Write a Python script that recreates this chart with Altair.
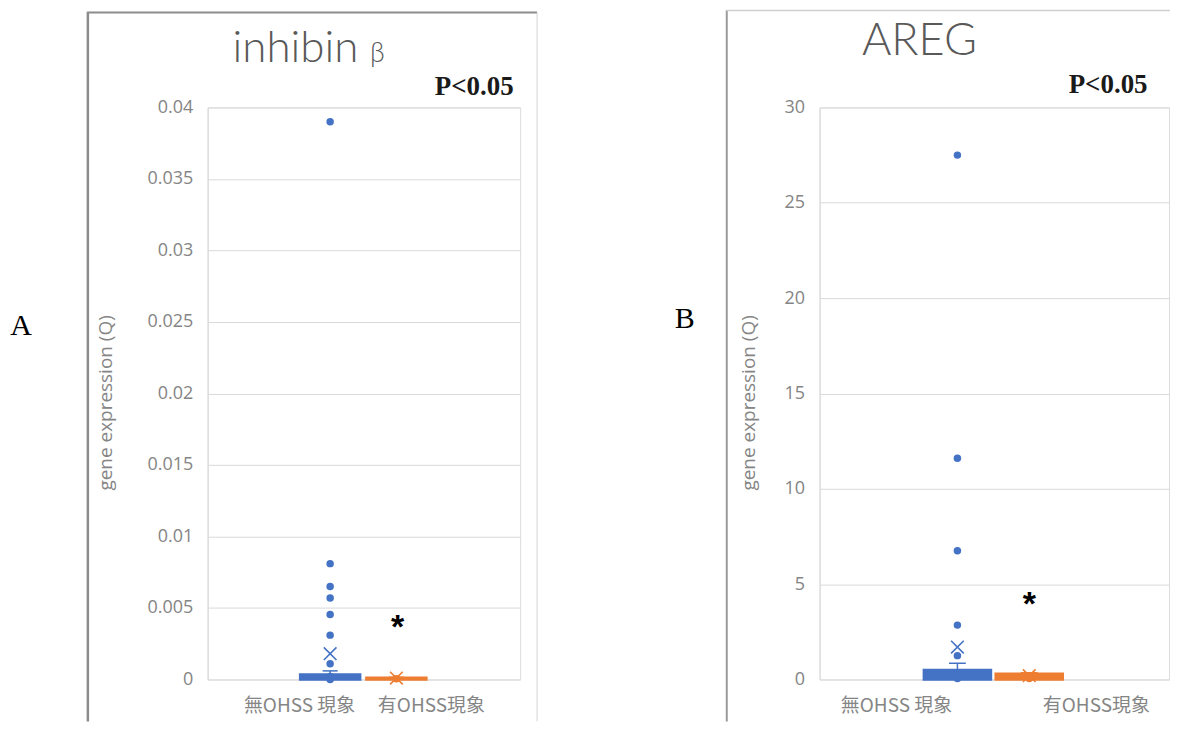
import altair as alt
import pandas as pd

# ---------------- data ----------------
groups = ["無OHSS 現象", "有OHSS現象"]
colors = ["#4472C4", "#ED7D31"]

# Panel A: inhibin β
a_q1 = [0.0, 0.0]
a_q3 = [0.00035, 0.00012]
a_mean = [0.0018, 0.0001]
a_whisker = [0.0006, 0.00015]
a_points_no = [0.039, 0.0081, 0.0065, 0.0057, 0.00455, 0.0031, 0.0011, 0.0002, 0.0]
a_points_yes = [0.00005]
a_ticks = [0, 0.005, 0.01, 0.015, 0.02, 0.025, 0.03, 0.035, 0.04]

# Panel B: AREG
b_q1 = [0.0, 0.0]
b_q3 = [0.5, 0.3]
b_mean = [1.7, 0.2]
b_whisker = [0.85, 0.35]
b_points_no = [27.5, 11.6, 6.75, 2.85, 1.25, 0.3, 0.05]
b_points_yes = [0.15, 0.05]
b_ticks = [0, 5, 10, 15, 20, 25, 30]

# ---------------- layout (not data) ----------------
HALF = 0.24
H = 573
GRID = "#d9d9d9"
LABEL_GRAY = "#858585"
one = pd.DataFrame({"k": [0]})
XSHAPE = "M-1,-1L1,1M-1,1L1,-1"


def panel(q1, q3, mean, whisker, pts_no, pts_yes, ticks, ymax, fmt,
          box_pos, label_pos, star_pos, star_y, width, deco):
    boxes = pd.DataFrame({"group": groups, "pos": box_pos, "q1": q1, "q3": q3,
                          "mean": mean, "whi": whisker, "color": colors})
    boxes["lo"] = boxes["pos"] - HALF
    boxes["hi"] = boxes["pos"] + HALF
    boxes["cl"] = boxes["pos"] - 0.06
    boxes["cr"] = boxes["pos"] + 0.06
    pts = pd.DataFrame({
        "value": pts_no + pts_yes,
        "pos": [box_pos[0]] * len(pts_no) + [box_pos[1]] * len(pts_yes),
        "color": [colors[0]] * len(pts_no) + [colors[1]] * len(pts_yes),
    })
    labels = pd.DataFrame({"group": groups, "pos": label_pos})
    star = pd.DataFrame({"pos": [star_pos], "v": [star_y], "t": ["*"]})

    xs = alt.Scale(domain=[0, 2.5])
    ys = alt.Scale(domain=[0, ymax], nice=False, zero=True)
    yaxis = alt.Axis(values=ticks, format=fmt, grid=True, gridColor=GRID,
                     domainColor=GRID, ticks=False, labelPadding=15,
                     labelFont="Open Sans", labelFontSize=18,
                     labelColor=LABEL_GRAY, title=None)

    def X(f):
        return alt.X(f, type="quantitative", scale=xs, axis=None)

    def Y(f):
        return alt.Y(f, type="quantitative", scale=ys, axis=yaxis)

    col = alt.Color("color:N", scale=None)
    stk = alt.Stroke("color:N", scale=None)

    box = alt.Chart(boxes).mark_bar(strokeWidth=2.5).encode(
        x=X("lo"), x2="hi", y=Y("q1"), y2="q3", color=col, stroke=stk)
    whisk = alt.Chart(boxes).mark_rule(strokeWidth=1.5).encode(
        x=X("pos"), y=Y("q3"), y2="whi", color=col)
    cap = alt.Chart(boxes).mark_rule(strokeWidth=1.5).encode(
        x=X("cl"), x2="cr", y=Y("whi"), color=col)
    meanx = alt.Chart(boxes).mark_point(shape=XSHAPE, filled=False, size=160,
                                        strokeWidth=1.6, opacity=1).encode(
        x=X("pos"), y=Y("mean"), stroke=stk)
    dots = alt.Chart(pts).mark_circle(size=56, opacity=1).encode(
        x=X("pos"), y=Y("value"), color=col)
    star_t = alt.Chart(star).mark_text(font="Liberation Sans", fontSize=34,
                                       fontWeight="bold", color="#000000",
                                       baseline="middle", dy=6).encode(
        x=X("pos"), y=Y("v"), text="t:N")
    glabels = alt.Chart(labels).mark_text(font="Noto Sans CJK TC", fontSize=19,
                                          color=LABEL_GRAY, baseline="middle").encode(
        x=X("pos"), y=alt.value(H + 27), text="group:N")

    layers = [box, whisk, cap, meanx, dots, star_t, glabels]

    # decorations: frame, titles, panel letter
    for (x1, y1, x2, y2, c, w) in deco["rules"]:
        enc = {"x": alt.value(x1), "y": alt.value(y1)}
        if x2 is not None:
            enc["x2"] = alt.value(x2)
        if y2 is not None:
            enc["y2"] = alt.value(y2)
        layers.append(alt.Chart(one).mark_rule(color=c, strokeWidth=w).encode(**enc))
    for (txt, x, y, font, size, weight, color, angle) in deco["texts"]:
        kw = dict(font=font, fontSize=size, color=color, baseline="alphabetic",
                  align="center", angle=angle)
        if weight:
            kw["fontWeight"] = weight
        layers.append(alt.Chart(one).mark_text(text=txt, **kw).encode(
            x=alt.value(x), y=alt.value(y)))

    return alt.layer(*layers).properties(width=width, height=H)


deco_a = {
    "rules": [
        (-198.5, -97, None, 615, "#ffffff", 1),      # invisible anchor
        (-120, -95, None, 615, "#8c8c8c", 2.5),      # left frame
        (-121, -95, 330, None, "#8c8c8c", 2),        # top frame
        (330, -95, None, 615, "#d4d4d4", 1),         # right frame
    ],
    "texts": [
        ("A", -187, 228, "Liberation Serif", 30, None, "#000000", 0),
        ("inhibin", 88, -46, "Lato", 44, 300, "#595959", 0),
        ("β", 170, -46, "Lato", 27, 300, "#595959", 0),
        ("P<0.05", 267, -12, "Liberation Serif", 27, "bold", "#1a1a1a", 0),
        ("gene expression (Q)", -96, 296, "Open Sans", 19, None, LABEL_GRAY, 270),
    ],
}

deco_b = {
    "rules": [
        (-93, -97, None, 615, "#9a9a9a", 2),
        (-94, -97, 351, None, "#cfcfcf", 1.5),
    ],
    "texts": [
        ("B", -135, 221, "Liberation Serif", 30, None, "#000000", 0),
        ("AREG", 100, -53, "Lato", 45, 300, "#595959", 0),
        ("P<0.05", 289, -14, "Liberation Serif", 27, "bold", "#1a1a1a", 0),
        ("gene expression (Q)", -65, 296, "Open Sans", 19, None, LABEL_GRAY, 270),
    ],
}

chart_a = panel(a_q1, a_q3, a_mean, a_whisker, a_points_no, a_points_yes,
                a_ticks, 0.04, ".3~f", [0.98, 1.51], [0.735, 1.79], 1.52, 0.004,
                313, deco_a)
chart_b = panel(b_q1, b_q3, b_mean, b_whisker, b_points_no, b_points_yes,
                b_ticks, 30, "d", [0.986, 1.5], [0.55, 1.98], 1.5, 4.2,
                350, deco_b)

chart = alt.hconcat(chart_a, chart_b, spacing=300, bounds="flush", padding=0
                    ).configure_view(stroke=None).configure(background="#ffffff")

chart.save("out.html", embed_options={"renderer": "svg", "actions": False})
